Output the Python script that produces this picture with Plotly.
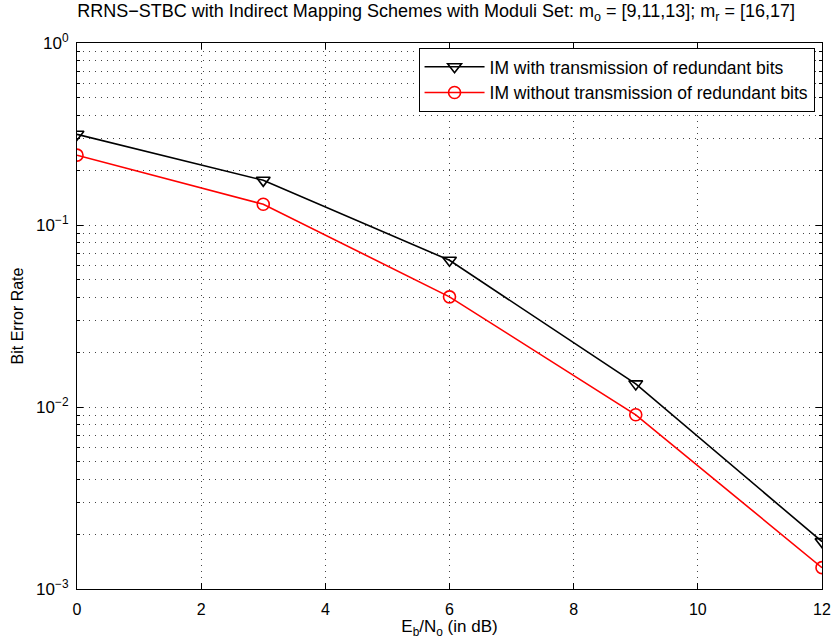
import plotly.graph_objects as go

snr_db = [0, 3, 6, 9, 12]
ber_with = [0.315, 0.176, 0.064, 0.0134, 0.00182]
ber_without = [0.242, 0.130, 0.0403, 0.00906, 0.00131]
name_with = "IM with transmission of redundant bits"
name_without = "IM without transmission of redundant bits"
x_ticks = [0, 2, 4, 6, 8, 10, 12]
y_ticks = [1e-3, 1e-2, 1e-1, 1]
y_ticktext = ["10<sup>−3</sup>", "10<sup>−2</sup>", "10<sup>−1</sup>", "10<sup>0</sup>"]
y_minor = [m * 10.0 ** e for e in (-3, -2, -1) for m in range(2, 10)]

font = "Liberation Sans, Arial, Helvetica, sans-serif"

fig = go.Figure()
fig.add_trace(go.Scatter(
    x=snr_db, y=ber_with, name=name_with, mode="lines+markers",
    line=dict(color="black", width=1.6),
    marker=dict(symbol="triangle-down-open", size=12, color="black", line=dict(width=1.6)),
))
fig.add_trace(go.Scatter(
    x=snr_db, y=ber_without, name=name_without, mode="lines+markers",
    line=dict(color="red", width=1.6),
    marker=dict(symbol="circle-open", size=12, color="red", line=dict(width=1.6)),
))

grid_dash = "1px,5px"
fig.update_layout(
    width=834, height=639,
    margin=dict(l=77, r=12, t=43, b=50, autoexpand=False),
    paper_bgcolor="white", plot_bgcolor="white",
    font=dict(family=font, size=16, color="black"),
    title=dict(
        text="RRNS−STBC with Indirect Mapping Schemes with Moduli Set: m<sub>o</sub> = [9,11,13]; m<sub>r</sub> = [16,17]",
        x=0.523, xanchor="center", y=0.993, yanchor="top",
        font=dict(size=18),
    ),
    legend=dict(
        x=0.990, xanchor="right", y=0.991, yanchor="top",
        bgcolor="white", bordercolor="black", borderwidth=1,
        font=dict(size=17.5), itemwidth=60, tracegroupgap=0,
    ),
    showlegend=True,
)
fig.update_xaxes(
    range=[0, 12], tickvals=x_ticks, ticks="inside", ticklen=6, tickcolor="black",
    showline=True, linecolor="black", linewidth=1, mirror="allticks",
    showgrid=True, gridcolor="#444", gridwidth=1, griddash=grid_dash,
    zeroline=False, tickfont=dict(size=16), ticklabelstandoff=6, automargin=False,
    title=dict(text="E<sub>b</sub>/N<sub>o</sub> (in dB)", font=dict(size=17), standoff=0),
)
fig.update_yaxes(
    type="log", range=[-3, 0], tickvals=y_ticks, ticktext=y_ticktext,
    ticks="inside", ticklen=6, tickcolor="black",
    showline=True, linecolor="black", linewidth=1, mirror="allticks",
    showgrid=True, gridcolor="#444", gridwidth=1, griddash=grid_dash,
    zeroline=False, tickfont=dict(size=17), ticklabelstandoff=4, automargin=False,
    minor=dict(tickvals=y_minor, ticks="inside", ticklen=3, tickcolor="black",
               showgrid=True, gridcolor="#444", gridwidth=1, griddash=grid_dash),
    title=dict(text="Bit Error Rate", font=dict(size=16), standoff=8),
)

fig.write_html("out.html")
